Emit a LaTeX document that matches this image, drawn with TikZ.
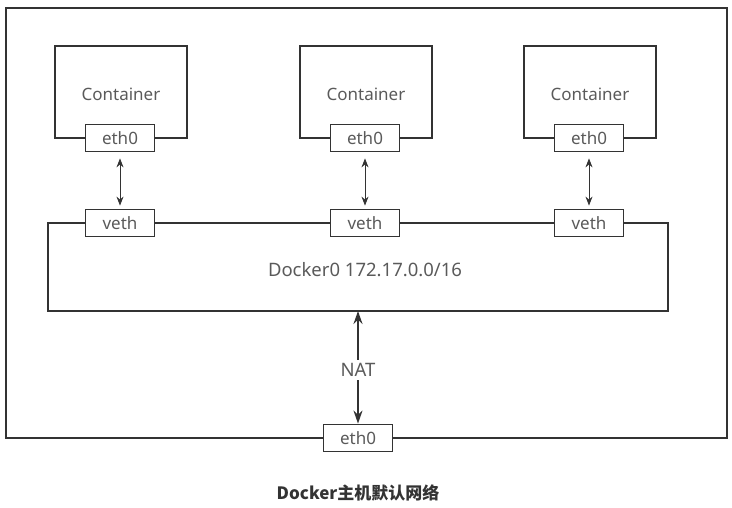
\documentclass[tikz,border=0pt]{standalone}
\usepackage{fontspec}
\setmainfont{Noto Sans}
\newfontfamily\cjk{Noto Sans CJK SC}
\usetikzlibrary{arrows.meta}
\definecolor{ln}{HTML}{333333}
\definecolor{tx}{HTML}{5a5a5a}
\begin{document}
\begin{tikzpicture}[x=1pt,y=-1pt,
  boxline/.style={draw=ln,line width=1.8pt},
  port/.style={boxline,fill=white,minimum width=69pt,minimum height=27pt,inner sep=0pt,font=\fontsize{17}{19}\selectfont,text=tx},
  lbl/.style={font=\fontsize{17}{19}\selectfont,text=tx},
  link/.style={draw=ln,line width=0.9pt,{Stealth[length=9pt,width=7pt]}-{Stealth[length=9pt,width=7pt]}},
  natarrow/.style={draw=ln,line width=2pt,-{Stealth[length=13pt,width=9pt]}}]
\useasboundingbox (0,0) rectangle (732,508);
% outer host box
\draw[draw=ln,line width=1.5pt] (6,8) rectangle (727,438);
% bridge
\draw[boxline] (48,223) rectangle (668,311);
\node[lbl,font=\fontsize{18.5}{20}\selectfont] (dk) at (365,270) {Docker0 172.17.0.0/16};
% containers
\foreach \i/\cx in {1/121,2/366,3/590}{
  \draw[boxline] (\cx-66,46) rectangle (\cx+66,138);
  \node[lbl] (c\i) at (\cx,94) {Container};
  \node[port] (e\i) at (\cx-1,138) {eth0};
  \node[port] (v\i) at (\cx-1,223) {veth};
  \draw[link] ([yshift=-6pt]e\i.south) -- ([yshift=3pt]v\i.north);
}
% host eth0
\node[port] (he) at (358,438) {eth0};
\coordinate (bb) at (358,311);
\node[lbl,font=\fontsize{18.5}{20}\selectfont] (nat) at (358,370) {NAT};
\draw[natarrow] (nat.north) -- (bb);
\draw[natarrow] (nat.south) -- (he.north);
% caption
\node[font=\fontsize{17}{19}\selectfont\bfseries\cjk,text=ln] (cap) at (358,493) {Docker主机默认网络};
\end{tikzpicture}
\end{document}
